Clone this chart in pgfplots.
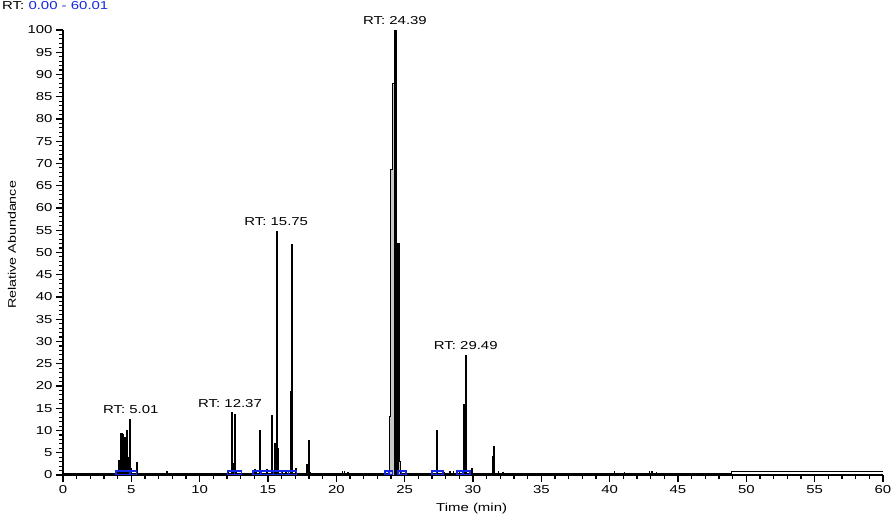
\documentclass[border=0pt]{standalone}
\usepackage{fontspec}
\setmainfont{Liberation Sans}[FakeStretch=1.3]
\usepackage{pgfplots}
\pgfplotsset{compat=1.18}
\definecolor{rtblue}{RGB}{20,40,230}
\definecolor{pkgray}{RGB}{200,200,200}
\begin{document}
\begin{tikzpicture}
\useasboundingbox (-63pt,-42pt) rectangle (829pt,475pt);
\begin{axis}[
  at={(0pt,0pt)}, anchor=south west,
  scale only axis, width=820pt, height=445pt,
  xmin=0, xmax=60, ymin=0, ymax=100,
  axis x line=bottom, axis y line=left,
  axis line style={-, line width=1.3pt, black},
  xtick={0,5,...,60}, ytick={0,5,...,100},
  minor x tick num=4, minor y tick num=4,
  tick align=outside,
  major tick length=7pt, minor tick length=4pt,
  every tick/.style={black, line width=1.1pt},
  tick label style={font=\fontsize{11.5}{13}\selectfont, black},
  /pgf/number format/assume math mode=true,
  clip=false,
]
% baseline trace
\addplot[black, line width=1pt] coordinates {(0,0.3)(48.9,0.3)(48.9,0.75)(60,0.75)};
% gray filled area of main peak
\addplot[fill=pkgray, draw=black, line width=0.8pt] coordinates {
(23.88,0.3)(23.88,13.1)(23.98,13.1)(23.98,68.7)(24.12,68.7)(24.12,87.9)(24.24,87.9)(24.24,100)(24.42,100)(24.42,52.1)(24.6,52.1)(24.6,3)(24.68,3)(24.68,0.3)} \closedcycle;
% main spikes
\addplot[ycomb, black, line width=1.8pt, mark=none] coordinates {
(3.93,0.8)(4.12,3.4)(4.24,9.5)(4.32,9.5)(4.41,9.3)(4.49,8.6)(4.58,8.6)(4.66,10.1)(4.75,4.0)(4.83,4.0)(4.90,12.5)(4.97,1.5)(5.39,2.9)(7.63,1.0)
(12.10,0.6)(12.34,14.1)(12.40,2.7)(12.46,2.7)(12.52,2.7)(12.58,13.8)(12.70,0.8)
(14.05,1.3)(14.15,0.9)(14.44,10.1)(14.90,1.3)(15.27,13.5)(15.51,7.1)(15.63,54.9)(15.76,6.0)(16.0,0.8)(16.3,0.6)
(16.66,18.9)(16.72,18.9)(16.78,51.8)(17.04,1.5)(17.87,2.5)(17.99,7.9)(18.1,0.6)
(27.38,10.1)(29.36,16.0)(29.42,16.0)(29.48,27.0)(29.9,1.5)(31.43,4.3)(31.55,6.6)
};
\addplot[ycomb, black, line width=2.6pt, mark=none] coordinates {(24.33,100)};
\addplot[ycomb, black, line width=2.2pt, mark=none] coordinates {(24.51,52.1)};
% small noise
\addplot[ycomb, black, line width=1.2pt, mark=none] coordinates {
(20.45,0.8)(20.6,0.9)(20.85,0.7)(21.3,0.5)(21.8,0.4)(22.4,0.4)(25.0,0.5)(25.5,0.5)(26.1,0.5)(26.5,0.4)
(27.94,0.7)(28.31,1.0)(28.55,0.9)(28.99,0.8)(31.85,0.8)(32.2,0.6)(32.6,0.5)
(33.5,0.4)(34.5,0.4)(36.2,0.5)(37.0,0.4)(38.0,0.5)(39.0,0.4)(40.38,0.9)(41.1,0.6)(42.0,0.5)
(42.9,0.9)(43.1,0.9)(43.4,0.6)(44.5,0.4)(46.0,0.4)
};
% integration markers (hollow boxes)
\pgfplotsset{mkbox/.style={rtblue, line width=1.6pt, line join=miter}}
\addplot[mkbox] coordinates {(3.88,0.1)(3.88,0.85)(4.9,0.85)(4.9,0.1)(4.9,0.85)(5.39,0.85)(5.39,0.1)(3.88,0.1)};
\addplot[mkbox] coordinates {(12.05,0.1)(12.05,0.85)(12.55,0.85)(12.55,0.1)(12.55,0.85)(13.07,0.85)(13.07,0.1)(12.05,0.1)};
\addplot[mkbox] coordinates {(13.92,0.1)(13.92,0.85)(14.5,0.85)(14.5,0.1)(14.5,0.85)(15.4,0.85)(15.4,0.1)(15.4,0.85)(16.0,0.85)(16.0,0.1)(16.0,0.85)(16.5,0.85)(16.5,0.1)(16.5,0.85)(17.1,0.85)(17.1,0.1)(13.92,0.1)};
\addplot[mkbox] coordinates {(23.55,0.1)(23.55,0.85)(23.85,0.85)(23.85,0.1)(23.85,0.85)(24.12,0.85)(24.12,0.1)(23.55,0.1)};
\addplot[mkbox] coordinates {(24.53,0.1)(24.53,0.85)(24.78,0.85)(24.78,0.1)(24.78,0.85)(25.09,0.85)(25.09,0.1)(24.53,0.1)};
\addplot[mkbox] coordinates {(26.99,0.1)(26.99,0.85)(27.34,0.85)(27.34,0.1)(27.34,0.85)(27.82,0.85)(27.82,0.1)(26.99,0.1)};
\addplot[mkbox] coordinates {(28.85,0.1)(28.85,0.85)(29.28,0.85)(29.28,0.1)(29.28,0.85)(29.77,0.85)(29.77,0.1)(28.85,0.1)};
% peak labels
\node[font=\fontsize{11.5}{13}\selectfont, anchor=base, inner sep=0] at (axis cs:4.96,13.9) {RT: 5.01};
\node[font=\fontsize{11.5}{13}\selectfont, anchor=base, inner sep=0] at (axis cs:12.22,15.2) {RT: 12.37};
\node[font=\fontsize{11.5}{13}\selectfont, anchor=base, inner sep=0] at (axis cs:15.6,56.0) {RT: 15.75};
\node[font=\fontsize{11.5}{13}\selectfont, anchor=base, inner sep=0] at (axis cs:24.29,101.3) {RT: 24.39};
\node[font=\fontsize{11.5}{13}\selectfont, anchor=base, inner sep=0] at (axis cs:29.47,28.1) {RT: 29.49};
% axis labels
\node[font=\fontsize{11}{13}\selectfont, rotate=90, anchor=center, inner sep=0] at ([xshift=-51pt]axis cs:0,51.7) {Relative Abundance};
\node[font=\fontsize{11.5}{13}\selectfont, anchor=base, inner sep=0] at ([yshift=-36.5pt]axis cs:29.9,0) {Time (min)};
\end{axis}
\node[font=\fontsize{11.5}{13}\selectfont, anchor=base west, inner sep=0] at (-61pt,465pt) {RT: \textcolor{rtblue}{0.00 - 60.01}};
\end{tikzpicture}
\end{document}
